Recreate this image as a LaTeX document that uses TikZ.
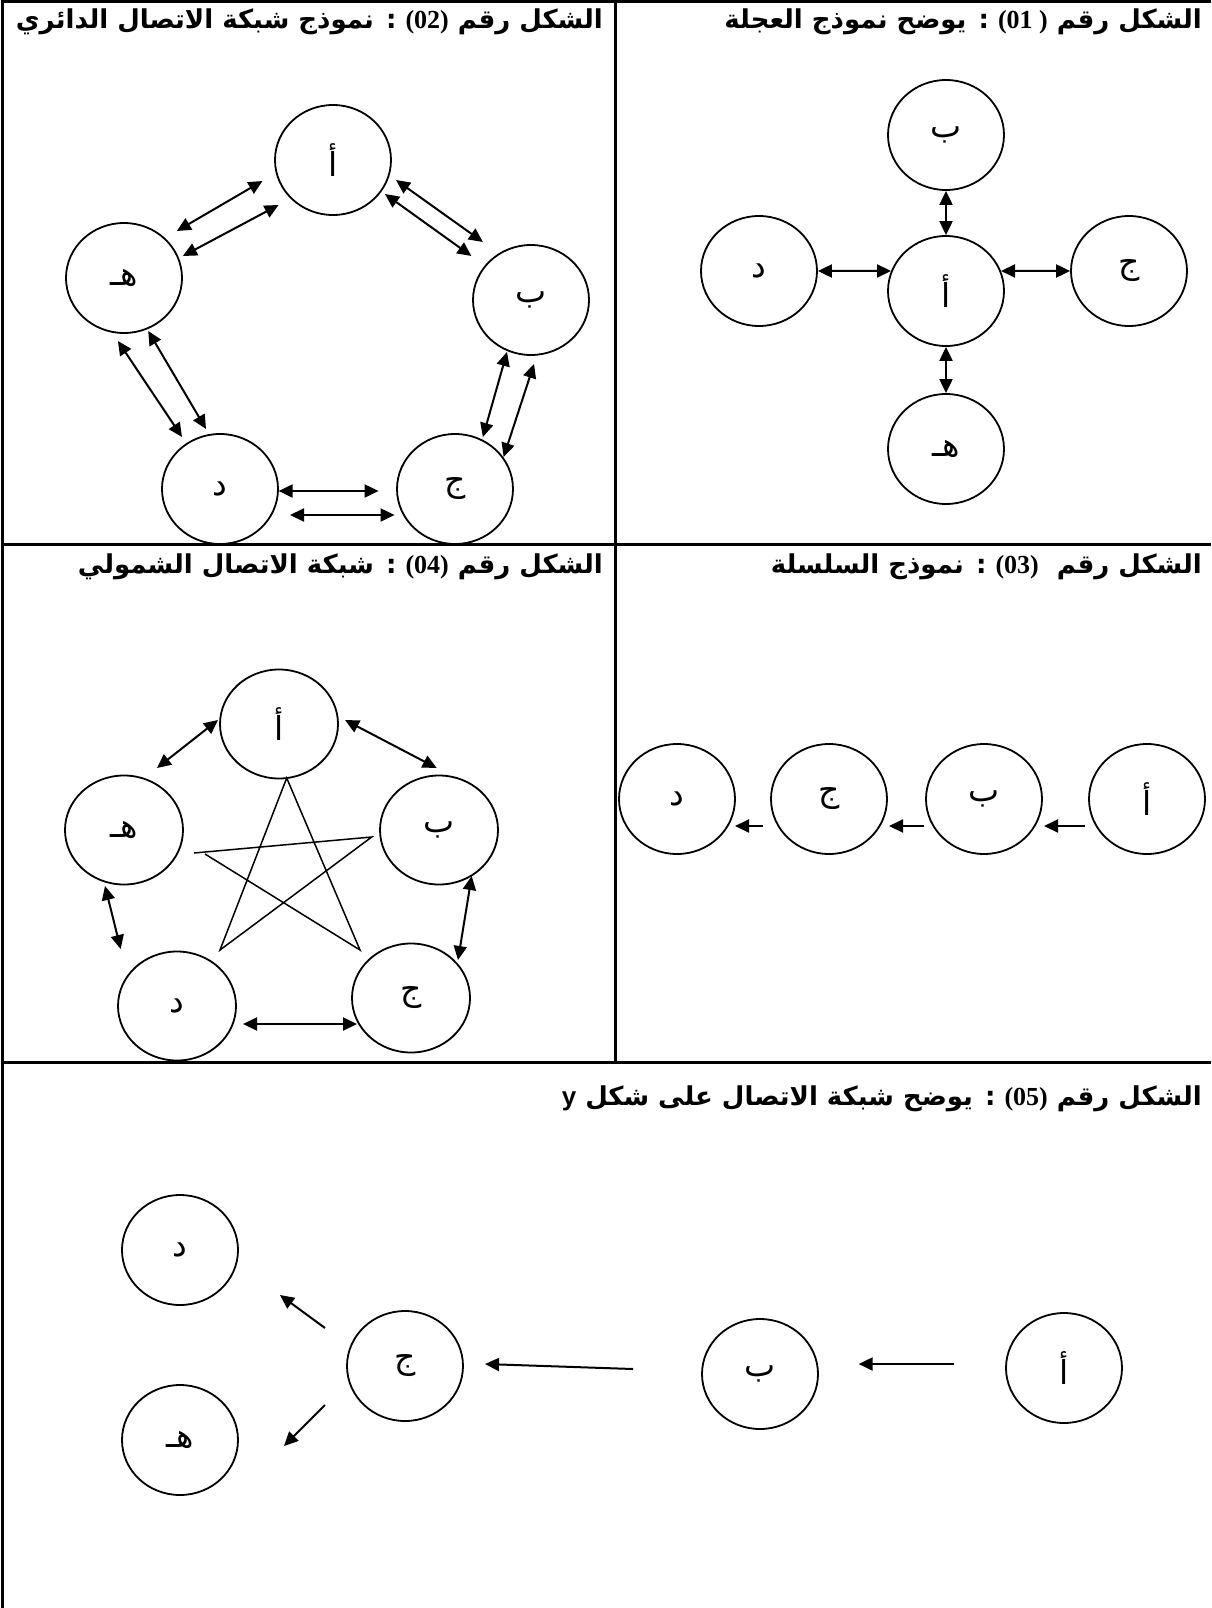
\documentclass[tikz,border=0pt]{standalone}
\usepackage{fontspec}
\usetikzlibrary{arrows.meta,shapes.geometric}
\TeXXeTstate=1
\newfontfamily\arfont[Script=Arabic]{DejaVu Sans}
\newfontfamily\numfont{Liberation Serif}
\newfontfamily\latsans{Liberation Sans}
\newcommand\titlefont{\arfont\bfseries\fontsize{26}{30}\selectfont}
\newcommand\lblfont{\arfont\fontsize{33}{36}\selectfont}
\newcommand\nm[1]{\beginL{\numfont\bfseries #1}\endL{}}
\tikzset{
  nd/.style={ellipse, draw, line width=1.8pt, minimum width=116pt, minimum height=110pt, inner sep=0pt, font=\lblfont},
  nd4/.style={nd, minimum width=118pt, minimum height=109pt},
  >={Triangle[length=14pt,width=13pt]},
  biarr/.style={<->, line width=2pt},
  uniarr/.style={->, line width=2pt},
  rule/.style={line width=3pt},
  starline/.style={line width=1.5pt},
  ttl/.style={anchor=east, inner sep=0pt, font=\titlefont}
}
\begin{document}
\begin{tikzpicture}[x=1pt,y=-1pt]
\useasboundingbox (0,0) rectangle (1211,1608);
% table
\draw[rule] (1211,2) -- (2,2) -- (2,1608);
\draw[rule] (615,2) -- (615,1062);
\draw[rule] (2,544) -- (1211,544);
\draw[rule] (2,1062) -- (1211,1062);
% titles
\node[ttl] (t1) at (1202,22) {\beginR الشكل رقم \nm{(01 )} : يوضح نموذج العجلة\endR};
\node[ttl] (t2) at (603,22) {\beginR الشكل رقم \nm{(02)} : نموذج شبكة الاتصال الدائري\endR};
\node[ttl] (t3) at (1202,567) {\beginR الشكل رقم \ \nm{(03)} : نموذج السلسلة\endR};
\node[ttl] (t4) at (603,567) {\beginR الشكل رقم \nm{(04)} : شبكة الاتصال الشمولي\endR};
\node[ttl] (t5) at (1202,1099) {\beginR الشكل رقم \nm{(05)} : يوضح شبكة الاتصال على شكل \beginL{\latsans\bfseries y}\endL\endR};
% fig 01
\node[nd] (b1) at (946,135) {ب};
\node[nd] (a1) at (946,291) {أ};
\node[nd] (d1) at (759,271) {د};
\node[nd] (j1) at (1129,271) {ج};
\node[nd] (h1) at (946,449) {هـ};
\draw[biarr] (b1.south) -- (a1.north);
\draw[biarr] (a1.south) -- (h1.north);
\draw[biarr] (d1.east) -- (a1.160);
\draw[biarr] (a1.20) -- (j1.west);
% fig 02
\node[nd] (a2) at (333,160) {أ};
\node[nd] (h2) at (124,278) {هـ};
\node[nd] (b2) at (531,300) {ب};
\node[nd] (d2) at (220,489) {د};
\node[nd] (j2) at (455,489) {ج};
\coordinate (e1s) at (176.8,231); \coordinate (e1t) at (262.5,181);
\coordinate (e2s) at (182.9,256); \coordinate (e2t) at (278.6,205);
\coordinate (f1s) at (396,180);   \coordinate (f1t) at (482.9,242);
\coordinate (f2s) at (385,194); \coordinate (f2t) at (471.4,256);
\coordinate (g1s) at (507,352);     \coordinate (g1t) at (482.9,437);
\coordinate (g2s) at (534,364);     \coordinate (g2t) at (503.6,457);
\coordinate (k1s) at (117.9,341); \coordinate (k1t) at (182,437);
\coordinate (k2s) at (148.2,331); \coordinate (k2t) at (206,429);
\coordinate (m1s) at (278.6,491); \coordinate (m1t) at (378.6,491);
\coordinate (m2s) at (290,515);   \coordinate (m2t) at (394.6,515);
\foreach \p in {e1,e2,f1,f2,g1,g2,k1,k2,m1,m2}{\draw[biarr] (\p s) -- (\p t);}
% fig 03
\node[nd] (d3) at (677,799) {د};
\node[nd] (j3) at (829,799) {ج};
\node[nd] (b3) at (984,799) {ب};
\node[nd] (a3) at (1147,799) {أ};
\coordinate (c31) at (1085,826); \coordinate (c32) at (1044,826);
\coordinate (c33) at (924,826);  \coordinate (c34) at (889,826);
\coordinate (c35) at (763,826);  \coordinate (c36) at (735,826);
\draw[uniarr] (c31) -- (c32);
\draw[uniarr] (c33) -- (c34);
\draw[uniarr] (c35) -- (c36);
% fig 04
\node[nd4] (a4) at (279,724) {أ};
\node[nd4] (b4) at (439,830) {ب};
\node[nd4] (h4) at (124,830) {هـ};
\node[nd4] (d4) at (177,1006) {د};
\node[nd4] (j4) at (411,998) {ج};
\coordinate (p1) at (194,853); \coordinate (p2) at (371.7,837);
\coordinate (p3) at (220,950);   \coordinate (p4) at (286.7,778);
\coordinate (p5) at (360,950);   \coordinate (p6) at (205,854);
\draw[starline] (p1) -- (p2) -- (p3) -- (p4) -- (p5) -- (p6);
\coordinate (q1s) at (218,720);   \coordinate (q1t) at (157,768);
\coordinate (q2s) at (345,720);   \coordinate (q2t) at (436.7,768);
\coordinate (q3s) at (105,886);   \coordinate (q3t) at (120.7,949);
\coordinate (q4s) at (471.7,876); \coordinate (q4t) at (458,960);
\coordinate (q5s) at (243,1024);  \coordinate (q5t) at (357,1024);
\foreach \p in {q1,q2,q3,q4,q5}{\draw[biarr] (\p s) -- (\p t);}
% fig 05
\node[nd] (a5) at (1064,1368) {أ};
\node[nd] (b5) at (760,1374) {ب};
\node[nd] (j5) at (405,1366) {ج};
\node[nd] (d5) at (180,1250) {د};
\node[nd] (h5) at (180,1440) {هـ};
\coordinate (r1s) at (953.6,1364); \coordinate (r1t) at (858.6,1364);
\coordinate (r2s) at (633,1369);   \coordinate (r2t) at (485,1364);
\coordinate (r3s) at (325,1328);   \coordinate (r3t) at (280,1295);
\coordinate (r4s) at (325,1405);   \coordinate (r4t) at (284,1446);
\foreach \p in {r1,r2,r3,r4}{\draw[uniarr] (\p s) -- (\p t);}
\end{tikzpicture}
\end{document}
